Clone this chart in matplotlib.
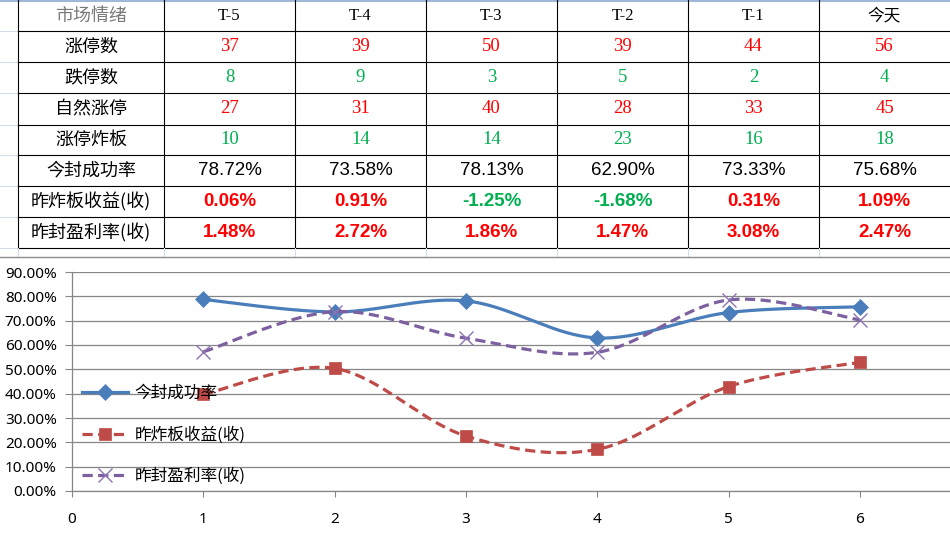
import numpy as np
import matplotlib
matplotlib.use('Agg')
import matplotlib.pyplot as plt
from matplotlib.lines import Line2D

# ---------------- data ----------------
columns = ['T-5', 'T-4', 'T-3', 'T-2', 'T-1', '今天']
header_label = '市场情绪'
row_labels = ['涨停数', '跌停数', '自然涨停', '涨停炸板', '今封成功率', '昨炸板收益(收)', '昨封盈利率(收)']
limit_up = [37, 39, 50, 39, 44, 56]
limit_down = [8, 9, 3, 5, 2, 4]
natural_up = [27, 31, 40, 28, 33, 45]
broken_board = [10, 14, 14, 23, 16, 18]
seal_rate_txt = ['78.72%', '73.58%', '78.13%', '62.90%', '73.33%', '75.68%']
broken_ret_txt = ['0.06%', '0.91%', '-1.25%', '-1.68%', '0.31%', '1.09%']
seal_profit_txt = ['1.48%', '2.72%', '1.86%', '1.47%', '3.08%', '2.47%']

x_vals = [1, 2, 3, 4, 5, 6]
series_names = ['今封成功率', '昨炸板收益(收)', '昨封盈利率(收)']
s_seal_rate = [78.72, 73.58, 78.13, 62.90, 73.33, 75.68]
s_broken_ret = [39.7, 50.4, 22.6, 17.1, 42.9, 52.9]
s_seal_profit = [57.2, 73.7, 62.8, 57.0, 78.5, 70.3]
y_ticks = [0, 10, 20, 30, 40, 50, 60, 70, 80, 90]
x_ticks = [0, 1, 2, 3, 4, 5, 6]

CJK = ['Noto Sans CJK SC', 'DejaVu Sans']
W, H = 950, 534
fig = plt.figure(figsize=(W / 100, H / 100), dpi=100)
fig.patch.set_facecolor('white')


def fx(x):
    return x / W


def fy(y):
    return 1 - y / H


def hline(x0, x1, y, color='black', lw=0.8):
    fig.add_artist(Line2D([fx(x0), fx(x1)], [fy(y), fy(y)], color=color, lw=lw,
                          transform=fig.transFigure))


def vline(x, y0, y1, color='black', lw=0.8):
    fig.add_artist(Line2D([fx(x), fx(x)], [fy(y0), fy(y1)], color=color, lw=lw,
                          transform=fig.transFigure))


# ---------------- spreadsheet table ----------------
col_edges = [18, 164, 295, 426, 557, 688, 819, 950]
row_edges = [0, 31, 62, 93, 125, 155, 186, 217, 248]
faint = '#D4DCE8'

hline(0, W, 0.5, color='#9FB8D8', lw=1.5)
for y in row_edges[1:]:
    hline(0, col_edges[0], y, color=faint, lw=0.8)
    hline(col_edges[0], W, y)
for x in col_edges[:-1]:
    vline(x, 0, row_edges[-1])
    vline(x, row_edges[-1], 257, color=faint, lw=0.8)

centers_x = [(col_edges[i] + col_edges[i + 1]) / 2 for i in range(len(col_edges) - 1)]
centers_y = [(row_edges[i] + row_edges[i + 1]) / 2 for i in range(len(row_edges) - 1)]

RED = '#FF0000'
GREEN = '#00B050'


def cell(col, row, s, color='black', family=CJK, size=13, weight='normal'):
    fig.text(fx(centers_x[col]), fy(centers_y[row]), s, ha='center', va='center',
             color=color, family=family, fontsize=size, fontweight=weight)


# header row
cell(0, 0, header_label, color='#7A7A7A', size=13)
for j, c in enumerate(columns):
    if c.startswith('T'):
        cell(j + 1, 0, c, family=['Liberation Serif'], size=12)
    else:
        cell(j + 1, 0, c, size=12)

for i, lab in enumerate(row_labels):
    cell(0, i + 1, lab, size=13)

int_rows = [(limit_up, RED), (limit_down, GREEN), (natural_up, RED), (broken_board, GREEN)]
for r, (vals, colr) in enumerate(int_rows):
    for j, v in enumerate(vals):
        cell(j + 1, r + 1, str(v), color=colr, family=['Liberation Serif'], size=13.5)

for j, s in enumerate(seal_rate_txt):
    cell(j + 1, 5, s, family=['Liberation Sans'], size=13.5)
for r, txts in ((6, broken_ret_txt), (7, seal_profit_txt)):
    for j, s in enumerate(txts):
        colr = GREEN if s.startswith('-') else RED
        cell(j + 1, r, s, color=colr, family=['Liberation Sans'], size=13.5, weight='bold')

# chart area top border
hline(0, W, 257, color='#8C8C8C', lw=1.0)

# ---------------- chart ----------------
x0_px, x7_px = 72, 72 + 7 * 131.3
y0_px, y90_px = 491, 272
ax = fig.add_axes([fx(x0_px), fy(y0_px), (x7_px - x0_px) / W, (y0_px - y90_px) / H])
ax.set_xlim(0, 7)
ax.set_ylim(0, 90)
ax.set_facecolor('none')

GRID = '#868686'
for sp in ['top', 'right']:
    ax.spines[sp].set_visible(False)
for sp in ['left', 'bottom']:
    ax.spines[sp].set_color(GRID)
    ax.spines[sp].set_linewidth(0.9)

ax.set_yticks(y_ticks)
ax.set_yticklabels([f'{v:.2f}%' for v in y_ticks])
ax.set_xticks(x_ticks)
ax.set_xticklabels([str(v) for v in x_ticks])
ax.yaxis.grid(True, color=GRID, lw=0.9)
ax.set_axisbelow(True)
ax.tick_params(axis='y', length=5, color=GRID, pad=6, labelsize=11, labelcolor='black')
ax.tick_params(axis='x', length=4, color=GRID, pad=11, labelsize=11, labelcolor='black')
for lab in ax.get_xticklabels() + ax.get_yticklabels():
    lab.set_family(['Noto Sans'])


def smooth(xs, ys, n=40):
    P = np.column_stack([np.asarray(xs, float), np.asarray(ys, float)])
    out = []
    for i in range(len(P) - 1):
        p0 = P[i - 1] if i > 0 else P[i]
        p1, p2 = P[i], P[i + 1]
        p3 = P[i + 2] if i + 2 < len(P) else P[i + 1]
        c1 = p1 + (p2 - p0) / 6
        c2 = p2 - (p3 - p1) / 6
        t = np.linspace(0, 1, n)[:, None]
        seg = (1 - t) ** 3 * p1 + 3 * (1 - t) ** 2 * t * c1 + 3 * (1 - t) * t ** 2 * c2 + t ** 3 * p2
        out.append(seg if i == 0 else seg[1:])
    return np.vstack(out)


BLUE = '#4A7EBB'
REDL = '#BE4B48'
PURP = '#7D60A0'
LW = 2.3
styles = [
    dict(color=BLUE, ls='-', dashes=None, marker='D', ms=8, mew=0.5, mfc=BLUE, mec=BLUE),
    dict(color=REDL, ls='--', dashes=(3.2, 1.7), marker='s', ms=9, mew=0.5, mfc=REDL, mec=REDL),
    dict(color=PURP, ls='--', dashes=(3.2, 1.7), marker='x', ms=10, mew=1.0, mfc=PURP, mec='#8C74B0'),
]
series = [s_seal_rate, s_broken_ret, s_seal_profit]
handles = []
for k, (ys, st) in enumerate(zip(series, styles)):
    curve = smooth(x_vals, ys)
    ln, = ax.plot(curve[:, 0], curve[:, 1], color=st['color'], lw=LW, ls=st['ls'],
                  zorder=3 + k, solid_capstyle='butt', dash_capstyle='butt')
    if st['dashes']:
        ln.set_dashes(st['dashes'])
    ax.plot(x_vals, ys, ls='none', marker=st['marker'], ms=st['ms'], mfc=st['mfc'],
            mec=st['mec'], mew=st['mew'], zorder=3 + k)
    h = Line2D([], [], color=st['color'], lw=LW, ls=st['ls'], marker=st['marker'],
               ms=st['ms'], mfc=st['mfc'], mec=st['mec'], mew=st['mew'])
    if st['dashes']:
        h.set_dashes(st['dashes'])
    handles.append(h)

leg = ax.legend(handles, series_names, loc='center left',
                bbox_to_anchor=(fx(82), fy(435)), bbox_transform=fig.transFigure,
                frameon=False, prop={'family': CJK, 'size': 12}, handlelength=2.75,
                handletextpad=0.4, labelspacing=1.45, borderpad=0, borderaxespad=0,
                numpoints=1)

fig.savefig('out.png', dpi=100, facecolor='white')
